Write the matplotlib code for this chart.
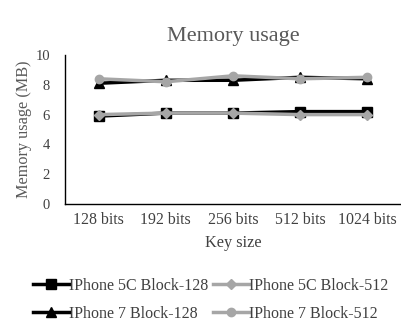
import matplotlib.pyplot as plt

# Memory usage per key size, one line per phone / block size
key_sizes = ['128 bits', '192 bits', '256 bits', '512 bits', '1024 bits']
iphone5c_block128 = [5.9, 6.1, 6.1, 6.2, 6.2]
iphone5c_block512 = [6.0, 6.1, 6.1, 6.0, 6.0]
iphone7_block128 = [8.1, 8.3, 8.3, 8.5, 8.4]
iphone7_block512 = [8.4, 8.2, 8.6, 8.4, 8.5]

plt.rcParams['font.family'] = ['Liberation Serif', 'DejaVu Serif']

fig = plt.figure(figsize=(4.02, 3.23), dpi=100)
ax = fig.add_axes([0.162, 0.368, 0.835, 0.462])

x = range(len(key_sizes))
ax.plot(x, iphone5c_block128, color='black', lw=2.5, marker='s', ms=7, label='IPhone 5C Block-128')
ax.plot(x, iphone5c_block512, color='#a6a6a6', lw=2.5, marker='D', ms=5, label='IPhone 5C Block-512')
ax.plot(x, iphone7_block128, color='black', lw=2.5, marker='^', ms=7, label='IPhone 7 Block-128')
ax.plot(x, iphone7_block512, color='#a6a6a6', lw=2.5, marker='o', ms=6, label='IPhone 7 Block-512')

ax.set_xlim(-0.5, len(key_sizes) - 0.5)
ax.set_ylim(0, 10)
ax.set_yticks([0, 2, 4, 6, 8, 10])
ax.set_xticks(list(x))
ax.set_xticklabels(key_sizes)
ax.tick_params(length=0, colors='#404040')
ax.tick_params(axis='x', pad=6, labelsize=11.4)
ax.tick_params(axis='y', pad=11, labelsize=10.5)
for s in ['top', 'right']:
    ax.spines[s].set_visible(False)
for s in ['left', 'bottom']:
    ax.spines[s].set_color('black')
    ax.spines[s].set_linewidth(1.0)

ax.set_title('Memory usage', fontsize=16, color='#595959', pad=10)
ax.set_xlabel('Key size', fontsize=11.7, color='#404040', labelpad=5)
ax.set_ylabel('Memory usage (MB)', fontsize=11.7, color='#595959', labelpad=2)

handles, labels = ax.get_legend_handles_labels()
order = [0, 2, 1, 3]
fig.legend([handles[i] for i in order], [labels[i] for i in order],
           loc='lower center', bbox_to_anchor=(0.525, -0.04), ncol=2, frameon=False,
           fontsize=11.5, handlelength=2.2, handletextpad=0.05, columnspacing=0.3,
           labelspacing=0.75, labelcolor='#404040')

fig.savefig('out.png', dpi=100)
